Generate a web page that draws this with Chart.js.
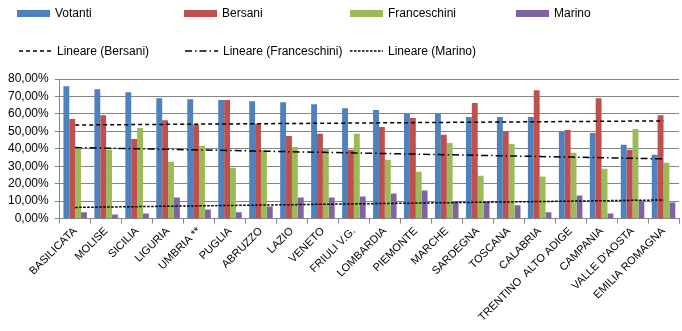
<!DOCTYPE html>
<html>
<head>
<meta charset="utf-8">
<script src="https://cdn.jsdelivr.net/npm/chart.js@4.4.1/dist/chart.umd.min.js"></script>
<style>
  html, body { margin: 0; padding: 0; background: #fff; }
  #wrap { position: relative; width: 682px; height: 331px; }
  #wrap canvas { position: absolute; left: 0; top: 0; }
  .leg { position: absolute; font-family: "Liberation Sans", Arial, sans-serif; font-size: 12px; color: #000; white-space: nowrap; line-height: 14px; }
  .box { position: absolute; width: 33px; height: 7px; }
  .smp { position: absolute; }
</style>
</head>
<body>
<div id="wrap">
  <canvas id="chart" width="682" height="331"></canvas>
  <div id="legend"></div>
</div>
<script>
const regioni = ["BASILICATA", "MOLISE", "SICILIA", "LIGURIA", "UMBRIA **", "PUGLIA", "ABRUZZO", "LAZIO",
  "VENETO", "FRIULI V.G.", "LOMBARDIA", "PIEMONTE", "MARCHE", "SARDEGNA", "TOSCANA", "CALABRIA",
  "TRENTINO  ALTO ADIGE", "CAMPANIA", "VALLE D'AOSTA", "EMILIA ROMAGNA"];

const votanti      = [75.8, 74.1, 72.4, 69.0, 68.4, 67.9, 67.3, 66.7, 65.6, 63.3, 62.2, 59.9, 59.9, 58.2, 58.2, 58.2, 49.7, 49.1, 42.4, 36.6];
const bersani      = [57.1, 59.3, 45.6, 56.4, 53.8, 67.9, 54.4, 47.4, 48.6, 39.4, 52.5, 57.6, 48.0, 66.2, 50.2, 73.6, 50.8, 69.0, 39.4, 59.3];
const franceschini = [40.4, 39.4, 51.9, 32.6, 41.7, 29.2, 39.3, 41.1, 40.0, 48.6, 33.8, 26.9, 43.4, 24.6, 42.8, 24.1, 37.7, 28.6, 51.4, 32.0];
const marino       = [3.6, 2.4, 3.0, 12.1, 5.3, 3.6, 7.0, 12.1, 12.1, 12.7, 14.4, 16.1, 9.8, 9.8, 7.6, 3.6, 13.3, 3.0, 10.4, 9.3];

const yMax = 80;
const yStep = 10;

const colori = {
  votanti: "#4F81BD",
  bersani: "#C0504D",
  franceschini: "#9BBB59",
  marino: "#8064A2"
};

// linea di tendenza lineare (minimi quadrati sull'indice)
function lineare(values) {
  const n = values.length;
  let sx = 0, sy = 0, sxy = 0, sxx = 0;
  values.forEach((y, i) => { sx += i; sy += y; sxy += i * y; sxx += i * i; });
  const b = (n * sxy - sx * sy) / (n * sxx - sx * sx);
  const a = (sy - b * sx) / n;
  return values.map((_, i) => a + b * i);
}

const dashB = [4, 3];
const dashF = [7, 3, 1.5, 3];
const dashM = [2.5, 1.5];

function barSet(label, data, color) {
  return {
    type: "bar", label: label, data: data, backgroundColor: color,
    borderWidth: 0, barPercentage: 1.0, categoryPercentage: 0.76, order: 2
  };
}

function trendSet(label, data, dash) {
  return {
    type: "line", label: label, data: lineare(data), borderColor: "#000",
    borderWidth: 1.5, borderDash: dash, pointRadius: 0, fill: false, order: 0
  };
}

new Chart(document.getElementById("chart").getContext("2d"), {
  data: {
    labels: regioni,
    datasets: [
      barSet("Votanti", votanti, colori.votanti),
      barSet("Bersani", bersani, colori.bersani),
      barSet("Franceschini", franceschini, colori.franceschini),
      barSet("Marino", marino, colori.marino),
      trendSet("Lineare (Bersani)", bersani, dashB),
      trendSet("Lineare (Franceschini)", franceschini, dashF),
      trendSet("Lineare (Marino)", marino, dashM)
    ]
  },
  options: {
    responsive: false,
    animation: false,
    layout: { padding: { top: 79, left: 2, right: 3, bottom: 6 } },
    plugins: { legend: { display: false }, tooltip: { enabled: false } },
    scales: {
      x: {
        offset: true,
        grid: { display: true, offset: true, drawOnChartArea: false, tickLength: 5, color: "#868686" },
        border: { display: true, color: "#868686" },
        ticks: {
          autoSkip: false, minRotation: 45, maxRotation: 45, padding: 1,
          color: "#000", font: { family: "Liberation Sans", size: 11 }
        }
      },
      y: {
        min: 0, max: yMax,
        grid: { color: "#868686", tickLength: 5 },
        border: { display: true, color: "#868686" },
        ticks: {
          stepSize: yStep, padding: 6, color: "#000",
          font: { family: "Liberation Sans", size: 12 },
          callback: v => v.toFixed(2).replace(".", ",") + "%"
        }
      }
    }
  }
});

// legenda HTML
const leg = document.getElementById("legend");
const righe1 = [
  ["Votanti", colori.votanti, 17],
  ["Bersani", colori.bersani, 184],
  ["Franceschini", colori.franceschini, 350],
  ["Marino", colori.marino, 516]
];
righe1.forEach(([t, c, x]) => {
  const b = document.createElement("div");
  b.className = "box"; b.style.left = x + "px"; b.style.top = "10px"; b.style.background = c;
  leg.appendChild(b);
  const s = document.createElement("div");
  s.className = "leg"; s.style.left = (x + 38) + "px"; s.style.top = "6px"; s.textContent = t;
  leg.appendChild(s);
});
const righe2 = [
  ["Lineare (Bersani)", dashB, 19],
  ["Lineare (Franceschini)", dashF, 185],
  ["Lineare (Marino)", dashM, 350]
];
righe2.forEach(([t, d, x]) => {
  const svg = document.createElementNS("http://www.w3.org/2000/svg", "svg");
  svg.setAttribute("class", "smp");
  svg.setAttribute("width", "33"); svg.setAttribute("height", "4");
  svg.style.left = x + "px"; svg.style.top = "49px";
  const l = document.createElementNS("http://www.w3.org/2000/svg", "line");
  l.setAttribute("x1", "0"); l.setAttribute("y1", "2"); l.setAttribute("x2", "33"); l.setAttribute("y2", "2");
  l.setAttribute("stroke", "#000"); l.setAttribute("stroke-width", "1.3");
  l.setAttribute("stroke-dasharray", d.join(" "));
  svg.appendChild(l);
  leg.appendChild(svg);
  const s = document.createElement("div");
  s.className = "leg"; s.style.left = (x + 38) + "px"; s.style.top = "44px"; s.textContent = t;
  leg.appendChild(s);
});
</script>
</body>
</html>
